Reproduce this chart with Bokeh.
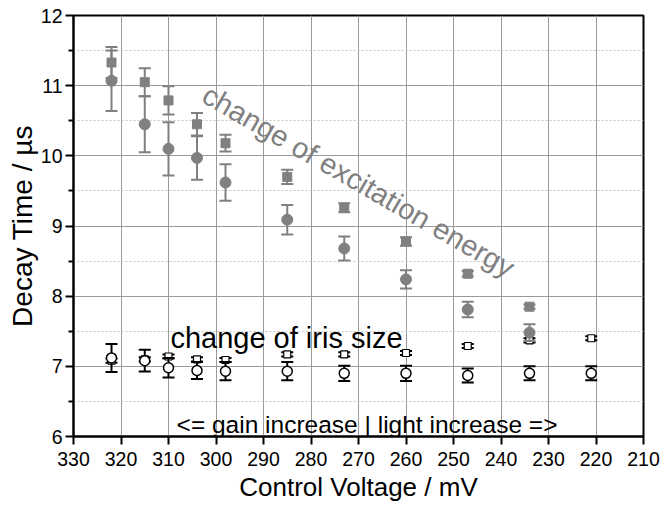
from bokeh.plotting import figure
from bokeh.models import Range1d, FixedTicker, ColumnDataSource, Label
from bokeh.embed import file_html
from bokeh.resources import INLINE

# ---- data ----
voltage_exc = [322, 315, 310, 304, 298, 285, 273, 260, 247, 234]
exc_square = [11.33, 11.05, 10.79, 10.45, 10.18, 9.70, 9.26, 8.78, 8.32, 7.85]
exc_square_err = [0.22, 0.20, 0.20, 0.16, 0.12, 0.10, 0.065, 0.06, 0.04, 0.03]
exc_circle = [11.07, 10.45, 10.10, 9.97, 9.62, 9.09, 8.68, 8.24, 7.81, 7.48]
exc_circle_err = [0.43, 0.40, 0.38, 0.31, 0.26, 0.21, 0.17, 0.13, 0.11, 0.12]

voltage_iris = [322, 315, 310, 304, 298, 285, 273, 260, 247, 234, 221]
iris_square = [7.08, 7.10, 7.14, 7.10, 7.09, 7.17, 7.17, 7.19, 7.29, 7.37, 7.40]
iris_square_err = [0.03, 0.03, 0.03, 0.03, 0.03, 0.03, 0.03, 0.03, 0.03, 0.03, 0.03]
iris_circle = [7.12, 7.08, 6.98, 6.94, 6.93, 6.93, 6.90, 6.90, 6.87, 6.90, 6.90]
iris_circle_err = [0.20, 0.155, 0.14, 0.12, 0.13, 0.13, 0.11, 0.11, 0.10, 0.10, 0.10]

x_ticks = [330, 320, 310, 300, 290, 280, 270, 260, 250, 240, 230, 220, 210]
y_ticks = [6, 7, 8, 9, 10, 11, 12]
y_minor = [6.5, 7.5, 8.5, 9.5, 10.5, 11.5]

FONT = "Liberation Sans"
GRAY = "#808080"

p = figure(width=662, height=505, output_backend="svg", toolbar_location=None,
           x_range=Range1d(330, 210), y_range=Range1d(6, 12),
           min_border_left=73, min_border_right=19, min_border_top=15, min_border_bottom=69,
           background_fill_color="white", border_fill_color="white")

p.outline_line_color = "black"
p.outline_line_width = 2

# axes
xa = p.xaxis[0]
ya = p.yaxis[0]
xa.ticker = FixedTicker(ticks=x_ticks, minor_ticks=[])
ya.ticker = FixedTicker(ticks=y_ticks, minor_ticks=y_minor)
for ax in (xa, ya):
    ax.axis_line_color = "black"
    ax.axis_line_width = 2
    ax.major_tick_line_color = "black"
    ax.major_tick_line_width = 2
    ax.major_tick_out = 8
    ax.major_tick_in = 0
    ax.minor_tick_line_color = "black"
    ax.minor_tick_line_width = 2
    ax.minor_tick_out = 5
    ax.minor_tick_in = 0
    ax.major_label_text_font = FONT
    ax.major_label_text_font_size = "19.5px"
    ax.major_label_text_color = "black"
    ax.axis_label_text_font = FONT
    ax.axis_label_text_font_style = "normal"
    ax.axis_label_text_color = "black"

xa.axis_label = "Control Voltage / mV"
xa.axis_label_text_font_size = "26px"
xa.major_label_standoff = 7
xa.axis_label_standoff = 3
ya.axis_label = "Decay Time / µs"
ya.axis_label_text_font_size = "28px"
ya.major_label_standoff = 3
ya.axis_label_standoff = 0

# grid
p.xgrid.grid_line_color = "#9a9a9a"
p.xgrid.grid_line_width = 1
p.ygrid.grid_line_color = "#9a9a9a"
p.ygrid.grid_line_width = 1
p.ygrid.minor_grid_line_color = "#c4c4c4"
p.ygrid.minor_grid_line_dash = "2 2"
p.ygrid.minor_grid_line_width = 1


def add_series(xs, ys, errs, marker, size, fill, line, line_w):
    src = ColumnDataSource(dict(
        x=xs, y=ys,
        up=[a + b for a, b in zip(ys, errs)],
        lo=[a - b for a, b in zip(ys, errs)],
    ))
    p.segment(x0="x", y0="lo", x1="x", y1="up", source=src, line_color=line, line_width=2)
    p.scatter(x="x", y="up", source=src, marker="dash", size=12, line_color=line, line_width=2)
    p.scatter(x="x", y="lo", source=src, marker="dash", size=12, line_color=line, line_width=2)
    p.scatter(x="x", y="y", source=src, marker=marker, size=size,
              fill_color=fill, line_color=line, line_width=line_w)


# iris-size series (white, black outline)
add_series(voltage_iris, iris_square, iris_square_err, "square", 7, "white", "black", 1.2)
add_series(voltage_iris, iris_circle, iris_circle_err, "circle", 10, "white", "black", 1.5)
# excitation-energy series (gray)
add_series(voltage_exc, exc_square, exc_square_err, "square", 9, GRAY, GRAY, 1)
add_series(voltage_exc, exc_circle, exc_circle_err, "circle", 11, GRAY, GRAY, 1)

# annotations
p.add_layout(Label(x=270, y=9.64, text="change of excitation energy", angle=-30, angle_units="deg",
                   text_align="center", text_baseline="middle", text_font=FONT,
                   text_font_size="29px", text_color=GRAY))
p.add_layout(Label(x=309.6, y=7.40, text="change of iris size", text_align="left",
                   text_baseline="alphabetic", text_font=FONT, text_font_size="29px",
                   text_color="black"))
p.add_layout(Label(x=308.3, y=6.167, text="<= gain increase | light increase =>", text_align="left",
                   text_baseline="alphabetic", text_font=FONT, text_font_size="24.5px",
                   text_color="black"))

open("out.html", "w").write(file_html(p, INLINE))
